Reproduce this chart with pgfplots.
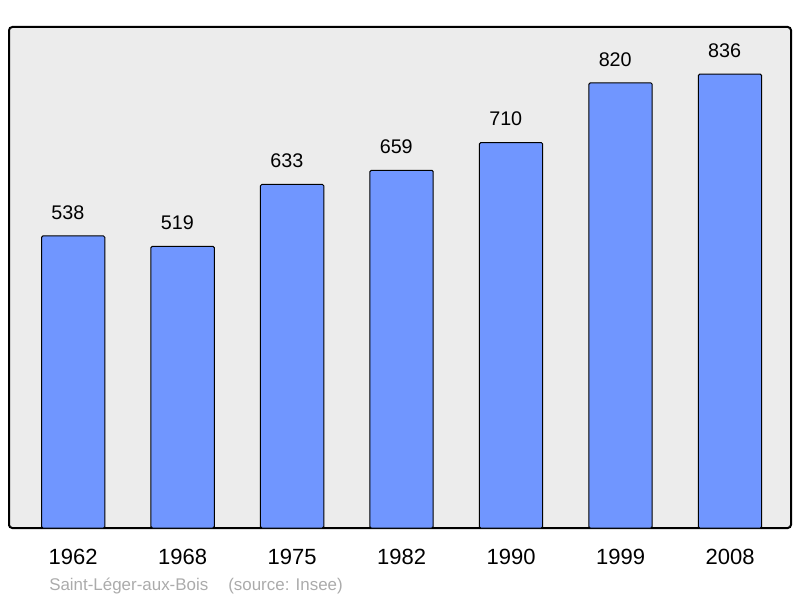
\documentclass[border=0pt]{standalone}
\usepackage{fontspec}
\setmainfont{Liberation Sans}
\usepackage{pgfplots}
\pgfplotsset{compat=1.18}
\definecolor{barblue}{HTML}{7096FF}
\definecolor{bggray}{HTML}{ECECEC}
\definecolor{srcgray}{HTML}{ABABAB}
\begin{document}
\begin{tikzpicture}
\begin{axis}[
  name=ax,
  scale only axis,
  width=586.5pt, height=375.75pt,
  xmin=-0.586, xmax=6.557,
  ymin=0, ymax=923,
  axis background/.style={fill=bggray},
  axis line style={line width=1.5pt, rounded corners=2.5pt},
  ybar, bar width=0.578,
  xtick=data,
  xticklabels={1962,1968,1975,1982,1990,1999,2008},
  x tick style={draw=none},
  ytick=\empty,
  xticklabel style={font=\fontsize{16.5pt}{19pt}\selectfont, inner sep=0pt, anchor=north, yshift=-11.5pt},
  /pgf/number format/assume math mode=true,
  nodes near coords,
  every node near coord/.append style={font=\fontsize{14.8pt}{17pt}\selectfont, inner sep=0pt, anchor=south, yshift=12pt, xshift=-4pt, text=black},
  clip=false,
]
\addplot[fill=barblue, draw=black, line width=0.75pt, rounded corners=1pt] coordinates {
  (0,538) (1,519) (2,633) (3,659) (4,710) (5,820) (6,836)
};
\end{axis}
\path ([xshift=-6.75pt,yshift=-52.5pt]ax.south west) rectangle ([xshift=6.75pt,yshift=20.25pt]ax.north east);
\node[anchor=base west, inner sep=0pt, text=srcgray, font=\fontsize{12.7pt}{15pt}\selectfont] at ([xshift=30pt,yshift=-46.8pt]ax.south west) {Saint-Léger-aux-Bois\hspace{15pt}(source: Insee)};
\end{tikzpicture}
\end{document}
